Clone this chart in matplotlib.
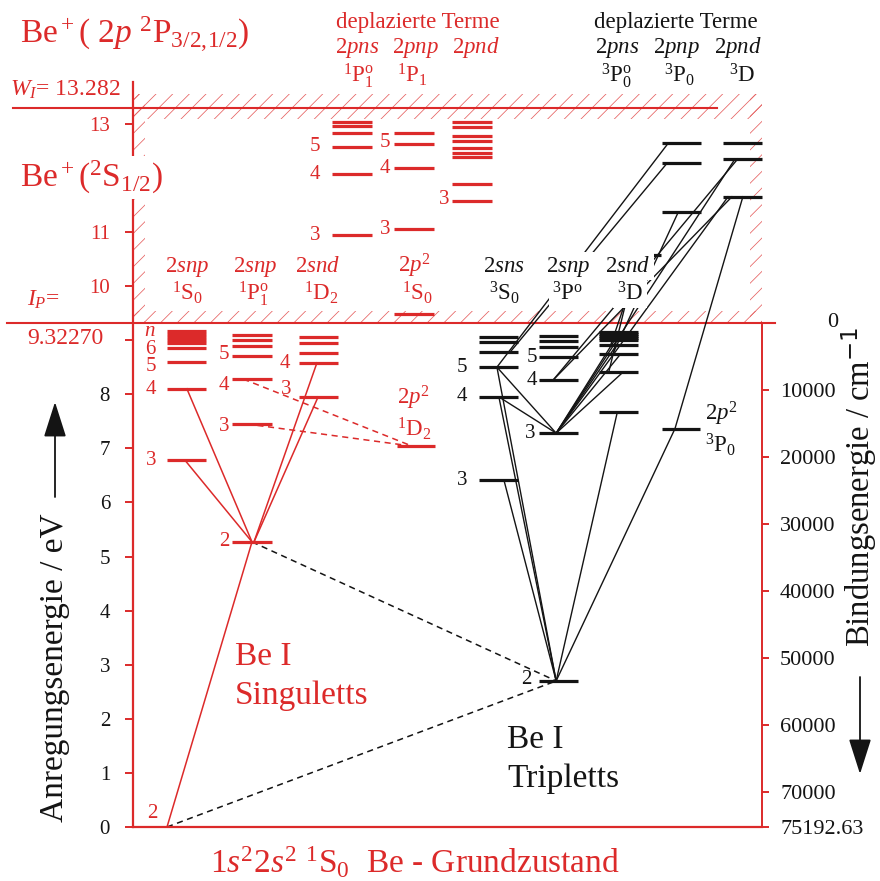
import matplotlib
matplotlib.use("Agg")
import matplotlib.pyplot as plt
from matplotlib.patches import Rectangle

plt.rcParams.update({
    "font.family": ["Liberation Serif", "DejaVu Serif"],
    "mathtext.fontset": "custom",
    "mathtext.rm": "Liberation Serif",
    "mathtext.it": "Liberation Serif:italic",
    "mathtext.bf": "Liberation Serif:bold",
    "hatch.linewidth": 0.55,
})

RED = "#dc2a2a"
INK = "#141414"

# ---- energies (eV above the 2s2 1S0 ground state) ----
CM_PER_EV = 8065.544
ionisation_ev = 9.3227          # Be+ (2S1/2) limit
ionisation_cm = 75192.63
limit_2p_ev = 13.282            # Be+ (2p 2P) limit

ground = [0.0]
singlet_s = [6.78, 8.10, 8.60, 8.85, 8.95, 9.01, 9.06, 9.11, 9.16]   # 2sns 1S0, n = 3, 4, ...
singlet_p = [5.27, 7.45, 8.28, 8.71, 8.89, 9.00, 9.09]               # 2snp 1P1, n = 2, 3, ...
singlet_d = [7.95, 8.58, 8.76, 8.95, 9.06]                           # 2snd 1D2, n = 3, 4, ...
singlet_p2_1d = [7.04]                                               # 2p2 1D2
singlet_p2_1s = [9.48]                                               # 2p2 1S0
auto_singlet_s = [10.94, 12.07, 12.57, 12.83, 12.96, 13.03]          # 2pns 1P1
auto_singlet_p = [11.05, 12.18, 12.62, 12.83]                        # 2pnp 1P1
auto_singlet_d = [11.57, 11.89, 12.38, 12.46, 12.55, 12.68, 12.77, 12.94, 13.03]  # 2pnd

triplet_s = [6.41, 7.95, 8.50, 8.78, 8.96, 9.06]                     # 2sns 3S, n = 3, 4, ...
triplet_p = [2.70, 7.28, 8.26, 8.69, 8.87, 8.98, 9.08]               # 2snp 3P, n = 2, 3, ...
triplet_d = [7.67, 8.41, 8.74, 8.91, 9.00, 9.04, 9.08, 9.12, 9.15]   # 2snd 3D, n = 3, 4, ...
triplet_p2_3p = [7.36]                                               # 2p2 3P0
auto_triplet_s = [10.57]                                             # 2pns 3P0
auto_triplet_p = [11.37, 12.27, 12.64]                               # 2pnp 3P0
auto_triplet_d = [11.65, 12.35, 12.64]                               # 2pnd 3D

left_ticks = [0, 1, 2, 3, 4, 5, 6, 7, 8, 9, 10, 11, 12, 13]
left_tick_labels = ["0", "1", "2", "3", "4", "5", "6", "7", "8", "", "10", "11", "", "13"]
right_ticks = [0, 10000, 20000, 30000, 40000, 50000, 60000, 70000, 75192.63]
right_tick_labels = ["", "10000", "20000", "30000", "40000", "50000", "60000", "70000", "75192.63"]

# ---- term columns: levels, left edge, bar width, colour, draw bar ----
columns = {
    "ground": (ground, 160, 14, RED, False),
    "s_s": (singlet_s, 167, 39, RED, True),
    "s_p": (singlet_p, 232, 40, RED, True),
    "s_d": (singlet_d, 299, 39, RED, True),
    "s_p2d": (singlet_p2_1d, 397, 38, RED, True),
    "s_p2s": (singlet_p2_1s, 394, 40, RED, True),
    "a_s_s": (auto_singlet_s, 332, 40, RED, True),
    "a_s_p": (auto_singlet_p, 394, 40, RED, True),
    "a_s_d": (auto_singlet_d, 452, 40, RED, True),
    "t_s": (triplet_s, 479, 39, INK, True),
    "t_p": (triplet_p, 539, 39, INK, True),
    "t_d": (triplet_d, 599, 39, INK, True),
    "t_p2": (triplet_p2_3p, 662, 38, INK, True),
    "a_t_s": (auto_triplet_s, 622, 39, INK, True),
    "a_t_p": (auto_triplet_p, 662, 39, INK, True),
    "a_t_d": (auto_triplet_d, 723, 39, INK, True),
}

# transitions: (column, level index, anchor along bar) -> (column, level index, anchor), style
transitions = [
    ("ground", 0, .5, "s_p", 0, .5, "red"),
    ("s_s", 0, .46, "s_p", 0, .5, "red"),
    ("s_s", 1, .51, "s_p", 0, .5, "red"),
    ("s_d", 0, .49, "s_p", 0, .55, "red"),
    ("s_d", 1, .46, "s_p", 0, .55, "red"),
    ("s_p", 1, .37, "s_p2d", 0, .40, "red--"),
    ("s_p", 2, .28, "s_p2d", 0, .40, "red--"),
    ("s_p", 0, .5, "t_p", 0, .44, "ink--"),
    ("ground", 0, .5, "t_p", 0, .44, "ink--"),
    ("t_s", 0, .64, "t_p", 0, .44, "ink"),
    ("t_s", 1, .51, "t_p", 0, .44, "ink"),
    ("t_s", 2, .46, "t_p", 0, .44, "ink"),
    ("t_d", 0, .47, "t_p", 0, .44, "ink"),
    ("t_p2", 0, .34, "t_p", 0, .44, "ink"),
    ("a_t_d", 0, .51, "t_p2", 0, .34, "ink"),
    ("t_s", 1, .51, "t_p", 1, .44, "ink"),
    ("t_s", 2, .46, "t_p", 1, .44, "ink"),
    ("t_d", 1, .62, "t_p", 1, .44, "ink"),
    ("t_d", 2, .55, "t_p", 1, .44, "ink"),
    ("t_d", 3, .45, "t_p", 1, .44, "ink"),
    ("t_d", 4, .40, "t_p", 1, .44, "ink"),
    ("a_t_d", 1, .31, "t_p", 1, .44, "ink"),
    ("a_t_d", 0, .13, "t_p", 1, .44, "ink"),
    ("a_t_d", 1, .38, "t_p", 2, .36, "ink"),
    ("a_t_d", 0, .23, "t_p", 2, .36, "ink"),
    ("t_s", 2, .46, "a_t_p", 2, .16, "ink"),
    ("t_s", 3, .80, "a_t_p", 1, .13, "ink"),
    ("a_t_p", 0, .42, "t_d", 2, .35, "ink"),
    ("a_t_s", 0, .40, "t_d", 1, .25, "ink"),
    ("a_t_s", 0, .50, "t_d", 3, .30, "ink"),
]

# level numbers: column, level index, text, gap to bar, vertical shift (drawing units)
level_labels = [
    ("s_s", 0, "3", 11, 0), ("s_s", 1, "4", 11, -1), ("s_s", 2, "5", 11, -5), ("s_s", 3, "6", 11, -1),
    ("s_p", 0, "2", 3, 0), ("s_p", 1, "3", 3, -3), ("s_p", 2, "4", 3, -6), ("s_p", 3, "5", 3, 1),
    ("s_d", 0, "3", 8, 7), ("s_d", 1, "4", 9, -1),
    ("a_s_s", 0, "3", 12, 0), ("a_s_s", 1, "4", 12, 0), ("a_s_s", 2, "5", 12, 0),
    ("a_s_p", 0, "3", 4, 0), ("a_s_p", 1, "4", 4, 0), ("a_s_p", 2, "5", 4, 2),
    ("a_s_d", 0, "3", 3, 2),
    ("t_s", 0, "3", 12, 0), ("t_s", 1, "4", 12, 0), ("t_s", 2, "5", 12, 0),
    ("t_p", 0, "2", 7, 1), ("t_p", 1, "3", 4, 0), ("t_p", 2, "4", 2, 0), ("t_p", 3, "5", 2, -1),
]

PX_PER_EV = 54.1
TOP_EV = 745 / PX_PER_EV


def ev_at(row):
    """vertical layout helper: figure row (from top) -> eV"""
    return (827 - row) / PX_PER_EV


def anchor(col, idx, frac):
    levels, x0, w, _, _ = columns[col]
    return x0 + frac * w, levels[idx]


fig = plt.figure(figsize=(8.8, 8.81), dpi=100)
ax = fig.add_axes([133 / 880, 54 / 881, 629 / 880, 745 / 881])
ax.set_xlim(133, 762)
ax.set_ylim(0, TOP_EV)

# left energy axis
for side in ("top", "right"):
    ax.spines[side].set_visible(False)
for side in ("left", "bottom"):
    ax.spines[side].set_color(RED)
    ax.spines[side].set_linewidth(1.6)
ax.set_xticks([])
ax.set_yticks(left_ticks)
ax.set_yticklabels(left_tick_labels, fontsize=15)
ax.tick_params(axis="y", direction="out", length=5.5, width=1.4, color=RED, pad=11, labelcolor=INK)
for lab, val in zip(ax.get_yticklabels(), left_ticks):
    if val > ionisation_ev:
        lab.set_color(RED)

# right binding-energy axis
ax2 = ax.twinx()
ax2.set_ylim(ionisation_cm, ionisation_cm - TOP_EV * CM_PER_EV)
for side in ("top", "left", "bottom"):
    ax2.spines[side].set_visible(False)
ax2.spines["right"].set_color(RED)
ax2.spines["right"].set_linewidth(1.4)
ax2.spines["right"].set_bounds(0, ionisation_cm)
ax2.set_yticks(right_ticks)
ax2.set_yticklabels(right_tick_labels, fontsize=16)
ax2.tick_params(axis="y", direction="out", length=5, width=1.4, color=RED, pad=8, labelcolor=INK)
ax2.text(838, 0, "0", fontsize=16, ha="right", va="center", color=INK, clip_on=False)

# hatched border of the autoionisation region
hatch_bands = [
    (133, ionisation_ev, 629, ev_at(311) - ionisation_ev),
    (133, ev_at(119), 629, ev_at(94) - ev_at(119)),
    (133, ionisation_ev, 12, ev_at(94) - ionisation_ev),
    (750, ionisation_ev, 12, ev_at(94) - ionisation_ev),
]
for x0, y0, w, h in hatch_bands:
    ax.add_patch(Rectangle((x0, y0), w, h, fill=False, hatch="//", edgecolor="#e56060",
                           linewidth=0, zorder=1, clip_on=False))

# series limits
ax.plot([7, 775], [ionisation_ev] * 2, color=RED, lw=1.5, clip_on=False, zorder=2)
ax.plot([13, 717], [limit_2p_ev] * 2, color=RED, lw=1.5, clip_on=False, zorder=2)

# transitions
styles = {
    "red": dict(color=RED, lw=1.1, ls="-"),
    "red--": dict(color=RED, lw=1.1, ls=(0, (4, 3))),
    "ink": dict(color=INK, lw=1.0, ls="-"),
    "ink--": dict(color=INK, lw=1.1, ls=(0, (4, 3))),
}
for ca, ia, fa, cb, ib, fb, st in transitions:
    xa, ya = anchor(ca, ia, fa)
    xb, yb = anchor(cb, ib, fb)
    ax.plot([xa, xb], [ya, yb], clip_on=False, zorder=2, **styles[st])

# term levels
for name, (levels, x0, w, col, draw) in columns.items():
    if draw:
        ax.hlines(levels, x0, x0 + w, colors=col, lw=2.3, zorder=3, clip_on=False)

# level numbers
for col, idx, txt, gap, dy in level_labels:
    levels, x0, w, c, _ = columns[col]
    ax.text(x0 - gap, levels[idx] + dy / PX_PER_EV, txt, fontsize=15, color=c,
            ha="right", va="center", zorder=4)
ax.text(157, 14 / PX_PER_EV, "2", fontsize=15, color=RED, ha="right", va="center")
ax.text(156, ev_at(331), r"$n$", fontsize=15, color=RED, ha="right", va="center")

# column headings
hdr = dict(fontsize=16.5, ha="center", va="baseline")
for x, t in [(187, r"$2snp$"), (255, r"$2snp$"), (318, r"$2snd$"), (414, r"$2p^2$")]:
    ax.text(x, ev_at(272), t, color=RED, **hdr)
for x, t in [(188, r"$^1\mathrm{S}_0$"), (254, r"$^1\mathrm{P}^\mathrm{o}_1$"),
             (321, r"$^1\mathrm{D}_2$"), (418, r"$^1\mathrm{S}_0$")]:
    ax.text(x, ev_at(300), t, color=RED, **hdr)
box = dict(facecolor="white", edgecolor="none", pad=2.5)
for x, t in [(504, r"$2sns$"), (568, r"$2snp$"), (628, r"$2snd$")]:
    ax.text(x, ev_at(272), t, color=INK, bbox=box, zorder=4, **hdr)
for x, t in [(505, r"$^3\mathrm{S}_0$"), (568, r"$^3\mathrm{P}^\mathrm{o}$"), (630, r"$^3\mathrm{D}$")]:
    ax.text(x, ev_at(300), t, color=INK, bbox=box, zorder=4, **hdr)

ax.text(418, ev_at(28), "deplazierte Terme", color=RED, **hdr)
for x, t in [(357, r"$2pns$"), (416, r"$2pnp$"), (476, r"$2pnd$")]:
    ax.text(x, ev_at(53), t, color=RED, **hdr)
for x, t in [(359, r"$^1\mathrm{P}^\mathrm{o}_1$"), (412, r"$^1\mathrm{P}_1$")]:
    ax.text(x, ev_at(82), t, color=RED, **hdr)
ax.text(676, ev_at(28), "deplazierte Terme", color=INK, **hdr)
for x, t in [(617, r"$2pns$"), (677, r"$2pnp$"), (738, r"$2pnd$")]:
    ax.text(x, ev_at(53), t, color=INK, **hdr)
for x, t in [(617, r"$^3\mathrm{P}^\mathrm{o}_0$"), (680, r"$^3\mathrm{P}_0$"), (742, r"$^3\mathrm{D}$")]:
    ax.text(x, ev_at(82), t, color=INK, **hdr)

# 2p2 term names beside their levels
ax.text(397, ev_at(398), r"$2p^2$", color=RED, fontsize=16.5, ha="left", va="center")
ax.text(397, ev_at(429), r"$^1\mathrm{D}_2$", color=RED, fontsize=16.5, ha="left", va="center")
ax.text(705, ev_at(414), r"$2p^2$", color=INK, fontsize=16.5, ha="left", va="center")
ax.text(705, ev_at(445), r"$^3\mathrm{P}_0$", color=INK, fontsize=16.5, ha="left", va="center")

# ion limits and titles
ax.text(20, ev_at(43), r"Be$^+$( 2$p$ $^2$P$_{3/2,\!1/2}$)", color=RED, fontsize=24,
        ha="left", va="baseline")
ax.text(20, ev_at(187), r"Be$^+$($^2$S$_{1/2}$)", color=RED, fontsize=24, ha="left",
        va="baseline", zorder=10, bbox=dict(facecolor="white", edgecolor="none", pad=2))
ax.text(10, ev_at(96), r"$W_I$= 13.282", color=RED, fontsize=17, ha="left", va="baseline")
ax.text(27, ev_at(306), r"$I_P$=", color=RED, fontsize=17, ha="left", va="baseline")
ax.text(27, ev_at(344), "9.32270", color=RED, fontsize=17, ha="left", va="baseline")

ax.text(235, ev_at(665), "Be I", color=RED, fontsize=24, ha="left", va="baseline")
ax.text(235, ev_at(704), "Singuletts", color=RED, fontsize=24, ha="left", va="baseline")
ax.text(507, ev_at(748), "Be I", color=INK, fontsize=24, ha="left", va="baseline")
ax.text(507, ev_at(787), "Tripletts", color=INK, fontsize=24, ha="left", va="baseline")
ax.text(415, ev_at(873), r"1$s^2$2$s^2$ $^1$S$_0$  Be - Grundzustand", color=RED,
        fontsize=24, ha="center", va="baseline")

# axis titles with direction arrows
ax.text(63, ev_at(668), "Anregungsenergie / eV", color=INK, fontsize=24, rotation=90,
        rotation_mode="anchor", ha="center", va="baseline")
ax.annotate("", xy=(55, ev_at(402)), xytext=(55, ev_at(497)), annotation_clip=False,
            arrowprops=dict(arrowstyle="-|>,head_length=1.1,head_width=0.35",
                            color=INK, lw=1.3, mutation_scale=20, shrinkA=0, shrinkB=0))
ax.text(870, ev_at(487), r"Bindungsenergie / cm$^{\mathsf{-1}}$", color=INK, fontsize=23.5,
        rotation=90, rotation_mode="anchor", ha="center", va="baseline")
ax.annotate("", xy=(860, ev_at(774)), xytext=(860, ev_at(677)), annotation_clip=False,
            arrowprops=dict(arrowstyle="-|>,head_length=1.1,head_width=0.35",
                            color=INK, lw=1.3, mutation_scale=20, shrinkA=0, shrinkB=0))

fig.savefig("out.png", dpi=100)
